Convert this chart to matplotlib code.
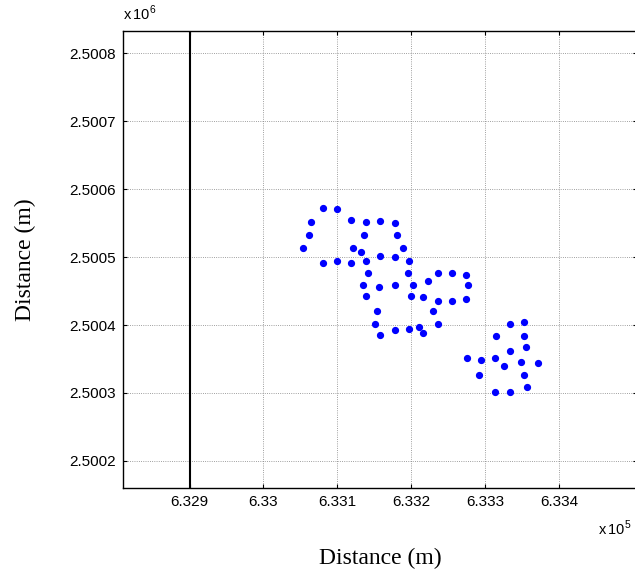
import matplotlib
matplotlib.use("Agg")
import matplotlib.pyplot as plt
from matplotlib.ticker import FuncFormatter

plt.rcParams['mathtext.fontset'] = 'custom'
plt.rcParams['mathtext.rm'] = 'Liberation Sans'

# Puntos medidos (m)
x_pts = [633081, 633100, 633064, 633119, 633139, 633158, 633178, 633061,
         633136, 633181, 633054, 633121, 633132, 633189, 633081, 633100,
         633119, 633139, 633158, 633178, 633197, 633142, 633195, 633236,
         633255, 633274, 633223, 633135, 633157, 633178, 633203, 633277,
         633139, 633199, 633216, 633236, 633255, 633274, 633153, 633230,
         633151, 633211, 633236, 633216, 633158, 633178, 633197,
         633333, 633352, 633315, 633353, 633355, 633333, 633275, 633294,
         633313, 633326, 633349, 633371, 633291, 633352, 633356, 633313,
         633333]
y_pts = [2500573, 2500571, 2500551, 2500554, 2500551, 2500553, 2500550, 2500533,
         2500533, 2500533, 2500513, 2500513, 2500508, 2500513, 2500492, 2500495,
         2500492, 2500495, 2500502, 2500500, 2500495, 2500477, 2500477, 2500477,
         2500476, 2500474, 2500465, 2500459, 2500456, 2500459, 2500459, 2500459,
         2500443, 2500442, 2500441, 2500436, 2500436, 2500439, 2500421, 2500421,
         2500401, 2500397, 2500401, 2500388, 2500385, 2500393, 2500394,
         2500401, 2500404, 2500384, 2500384, 2500368, 2500361, 2500352, 2500349,
         2500352, 2500340, 2500346, 2500344, 2500327, 2500327, 2500308, 2500302,
         2500301]

# Linea de referencia vertical
ref_x = [632900, 632900]
ref_y = [2500160, 2500833]

x_ticks = [632900, 633000, 633100, 633200, 633300, 633400]
y_ticks = [2500200, 2500300, 2500400, 2500500, 2500600, 2500700, 2500800]

fig = plt.figure(figsize=(6.35, 5.70), dpi=100)
ax = fig.add_axes([0.1937, 0.1439, 0.8090, 0.8017])

ax.plot(ref_x, ref_y, color='k', lw=1.5, zorder=3)
ax.plot(x_pts, y_pts, 'o', color='#0000ff', ms=4.2, mec='#0000ff', zorder=4)

ax.set_xlim(632810, 633505)
ax.set_ylim(2500160, 2500833)
ax.set_xticks(x_ticks)
ax.set_yticks(y_ticks)
ax.xaxis.set_major_formatter(FuncFormatter(lambda v, p: '%g' % (v / 1e5)))
ax.yaxis.set_major_formatter(FuncFormatter(lambda v, p: '%g' % round(v / 1e6, 4)))

ax.grid(True, color='0.5', lw=0.6, ls=':')
ax.set_axisbelow(True)
ax.tick_params(direction='in', length=3, width=0.8, top=True, right=True,
               labelsize=11, pad=5)
for lab in ax.get_xticklabels() + ax.get_yticklabels():
    lab.set_family('Liberation Sans')
for s in ax.spines.values():
    s.set_linewidth(1.0)

ax.set_xlabel('Distance (m)', family='Liberation Serif', fontsize=17, labelpad=28)
ax.set_ylabel('Distance (m)', family='Liberation Serif', fontsize=17, labelpad=24)

fig.text(0.1937, 0.960, r'x$\,10^{6}$', fontsize=10.5, family='Liberation Sans',
         ha='left', va='bottom')
fig.text(0.942, 0.057, r'x$\,10^{5}$', fontsize=10.5, family='Liberation Sans',
         ha='left', va='bottom')

fig.savefig('out.png', dpi=100)
